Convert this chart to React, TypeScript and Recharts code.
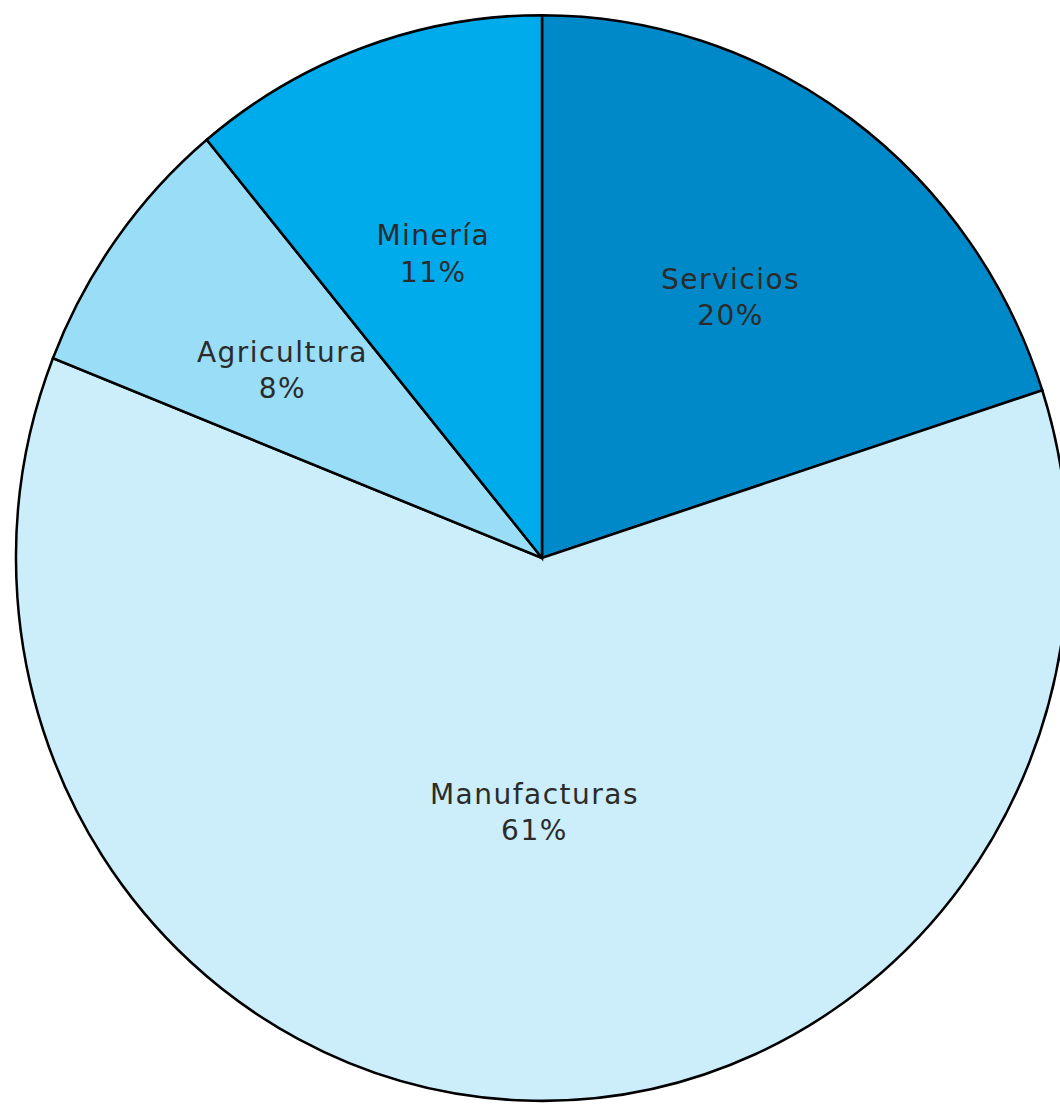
import { PieChart, Pie, Cell } from "recharts";

const sectors = ["Servicios", "Manufacturas", "Agricultura", "Minería"];
const shares = [20, 61, 8, 11];
const colors = ["#0089c8", "#cceefa", "#99ddf7", "#00abec"];

const data = sectors.map((name, i) => ({ name, value: shares[i] }));

const RADIAN = Math.PI / 180;

const renderLabel = (props: any) => {
  const { cx, cy, midAngle, outerRadius, percent, name, value } = props;
  // big slice label sits closer to the centre
  const r = outerRadius * (percent > 0.5 ? 0.455 : 0.61);
  const x = cx + r * Math.cos(-midAngle * RADIAN);
  const y = cy + r * Math.sin(-midAngle * RADIAN);
  return (
    <text
      x={x}
      y={y}
      textAnchor="middle"
      fill="#2b2b2b"
      fontSize={28}
      letterSpacing={1.5}
      fontFamily="DejaVu Sans"
    >
      <tspan x={x} y={y - 1}>
        {name}
      </tspan>
      <tspan x={x} y={y + 34}>
        {value}%
      </tspan>
    </text>
  );
};

const App = () => {
  return (
    <div
      style={{
        position: "absolute",
        left: 0,
        top: 0,
        width: 1060,
        height: 1104,
        overflow: "hidden",
        background: "#fff",
      }}
    >
      <div style={{ transform: "scaleY(1.032)", transformOrigin: "0 0" }}>
        <PieChart
          width={1060}
          height={1070}
          margin={{ top: 0, right: 0, bottom: 0, left: 0 }}
        >
          <Pie
            data={data}
            dataKey="value"
            nameKey="name"
            cx={542}
            cy={540.7}
            outerRadius={526}
            startAngle={90}
            endAngle={-270}
            stroke="#000"
            strokeWidth={2.5}
            label={renderLabel}
            labelLine={false}
            isAnimationActive={false}
          >
            {data.map((d, i) => (
              <Cell key={d.name} fill={colors[i]} />
            ))}
          </Pie>
        </PieChart>
      </div>
    </div>
  );
};

export default App;
